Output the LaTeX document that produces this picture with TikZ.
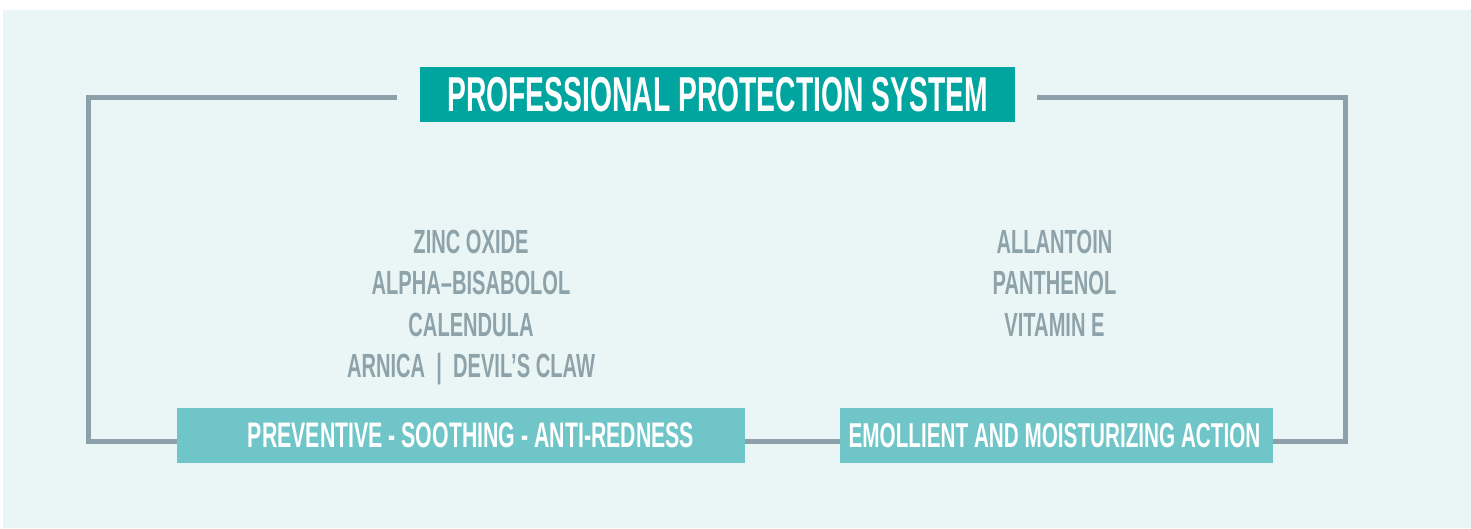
\documentclass[tikz,border=0pt]{standalone}
\usepackage{fontspec}
\newfontfamily\dinf[FakeStretch=0.6]{Liberation Sans}
\newfontfamily\dint[FakeStretch=0.577]{Liberation Sans}
\definecolor{bgc}{HTML}{EAF6F6}
\definecolor{framec}{HTML}{8BA0A8}
\definecolor{titlec}{HTML}{00A59F}
\definecolor{boxc}{HTML}{6FC5C7}
\definecolor{listc}{HTML}{8EA2AA}
\tikzset{
  frameline/.style={draw=framec, line width=5pt},
  titlebox/.style={fill=titlec, text=white, inner sep=0pt, minimum height=55pt, font=\dint\bfseries\fontsize{49}{49}\selectfont},
  actbox/.style={fill=boxc, text=white, inner sep=0pt, minimum height=55pt, font=\dinf\bfseries\fontsize{35}{35}\selectfont},
  listitem/.style={anchor=base, text=listc, inner sep=0pt, font=\dinf\bfseries\fontsize{33.5}{33.5}\selectfont}
}
\begin{document}
\begin{tikzpicture}[x=1pt,y=-1pt]
\useasboundingbox (0,0) rectangle (1471,528);
\fill[white] (0,0) rectangle (1471,528);
\fill[bgc] (3,10) rectangle (1471,528);
\node[titlebox, minimum width=595pt] (title) at (717.5,94.5) {PROFESSIONAL PROTECTION SYSTEM};
\node[actbox, minimum width=568pt] (left) at (461,435.5) {\hspace*{20pt}\dinf\bfseries\fontsize{35.5}{35}\selectfont PREVENTIVE - SOOTHING - ANTI-REDNESS};
\node[actbox, minimum width=433pt] (right) at (1056.5,435.5) {\fontsize{34.5}{35}\selectfont EMOLLIENT AND MOISTURIZING ACTION\hspace*{4pt}};
\coordinate (ta) at (397,97.5);
\coordinate (tb) at (1037,97.5);
\coordinate (bl) at (88.5,441.5);
\coordinate (br) at (1345.5,441.5);
\draw[frameline] (ta) -| (bl) -- (bl -| left.west);
\draw[frameline] (tb) -| (br) -- (br -| right.east);
\draw[frameline] (left.east |- bl) -- (right.west |- bl);
\node[listitem] (l1) at (471,253) {ZINC OXIDE};
\node[listitem] (l2) at (471,294.5) {ALPHA–BISABOLOL};
\node[listitem] (l3) at (471,336) {CALENDULA};
\node[listitem] (l4) at (471,377.5) {ARNICA\,\,|\,\,DEVIL’S CLAW};
\node[listitem] (r1) at (1054.5,253) {ALLANTOIN};
\node[listitem] (r2) at (1054.5,294.5) {PANTHENOL};
\node[listitem] (r3) at (1054.5,336) {VITAMIN E};
\end{tikzpicture}
\end{document}
